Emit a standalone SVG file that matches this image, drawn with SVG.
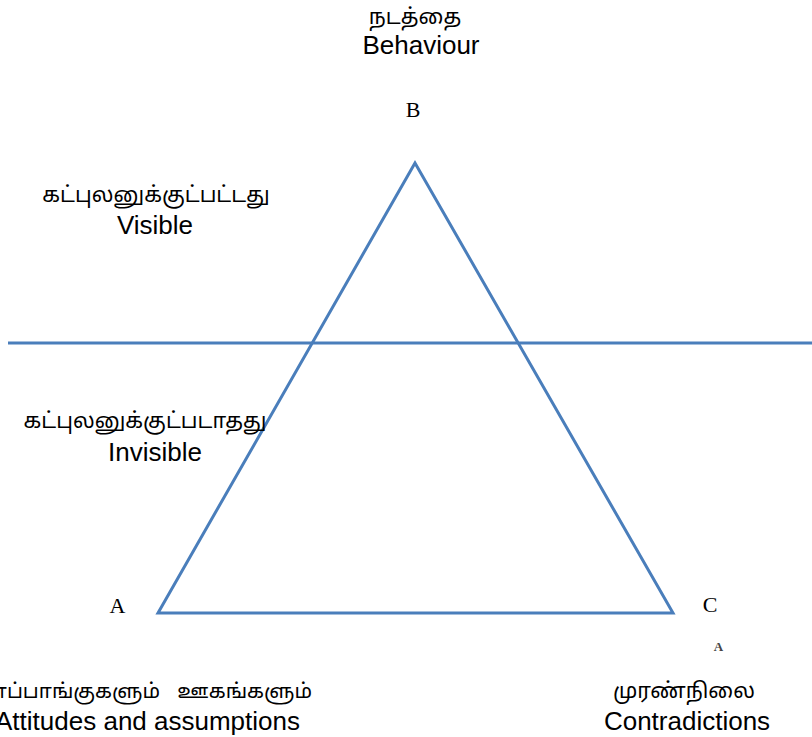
<svg xmlns="http://www.w3.org/2000/svg" width="812" height="737" viewBox="0 0 812 737">
  <style>
    .ln { fill: none; stroke: #4a7ebb; stroke-width: 3; stroke-linejoin: miter; }
    .ta { font-family: "Noto Sans Tamil", "Latha", "Noto Sans", "DejaVu Sans", sans-serif; font-size: 21.5px; fill: #000; text-anchor: middle; }
    .en { font-family: "Liberation Sans", Arial, sans-serif; font-size: 26px; fill: #000; text-anchor: middle; }
    .pt { font-family: "Liberation Serif", "Times New Roman", serif; font-size: 22px; fill: #000; text-anchor: middle; }
    .tiny { font-family: "Liberation Serif", serif; font-size: 13px; font-weight: bold; fill: #444; text-anchor: middle; }
  </style>
  <rect width="812" height="737" fill="#fff"/>
  <g id="connectors">
    <polygon class="ln" points="415,163 158,613 673,613"/>
    <line class="ln" x1="8" y1="343" x2="812" y2="343"/>
  </g>
  <g id="node-B">
    <text class="ta" x="415" y="24">நடத்தை</text>
    <text class="en" x="421" y="54">Behaviour</text>
    <text class="pt" x="413" y="117">B</text>
  </g>
  <g id="visible">
    <text class="ta" x="156" y="202">கட்புலனுக்குட்பட்டது</text>
    <text class="en" x="155" y="234">Visible</text>
  </g>
  <g id="invisible">
    <text class="ta" x="145" y="428">கட்புலனுக்குட்படாதது</text>
    <text class="en" x="155" y="461">Invisible</text>
  </g>
  <g id="node-A">
    <text class="pt" x="117.5" y="613">A</text>
    <!-- the label runs past the left edge of the page -->
    <text class="ta" x="160" y="698" style="text-anchor:end; font-size:20.5px">மனப்பாங்குகளும்</text>
    <text class="ta" x="312" y="698" style="text-anchor:end; font-size:20.5px">ஊகங்களும்</text>
    <text class="en" x="300" y="730" style="text-anchor:end">Attitudes and assumptions</text>
  </g>
  <g id="node-C">
    <text class="pt" x="710" y="612">C</text>
    <text class="tiny" x="718.5" y="651">A</text>
    <text class="ta" x="684" y="698">முரண்நிலை</text>
    <text class="en" x="687" y="730">Contradictions</text>
  </g>
</svg>
